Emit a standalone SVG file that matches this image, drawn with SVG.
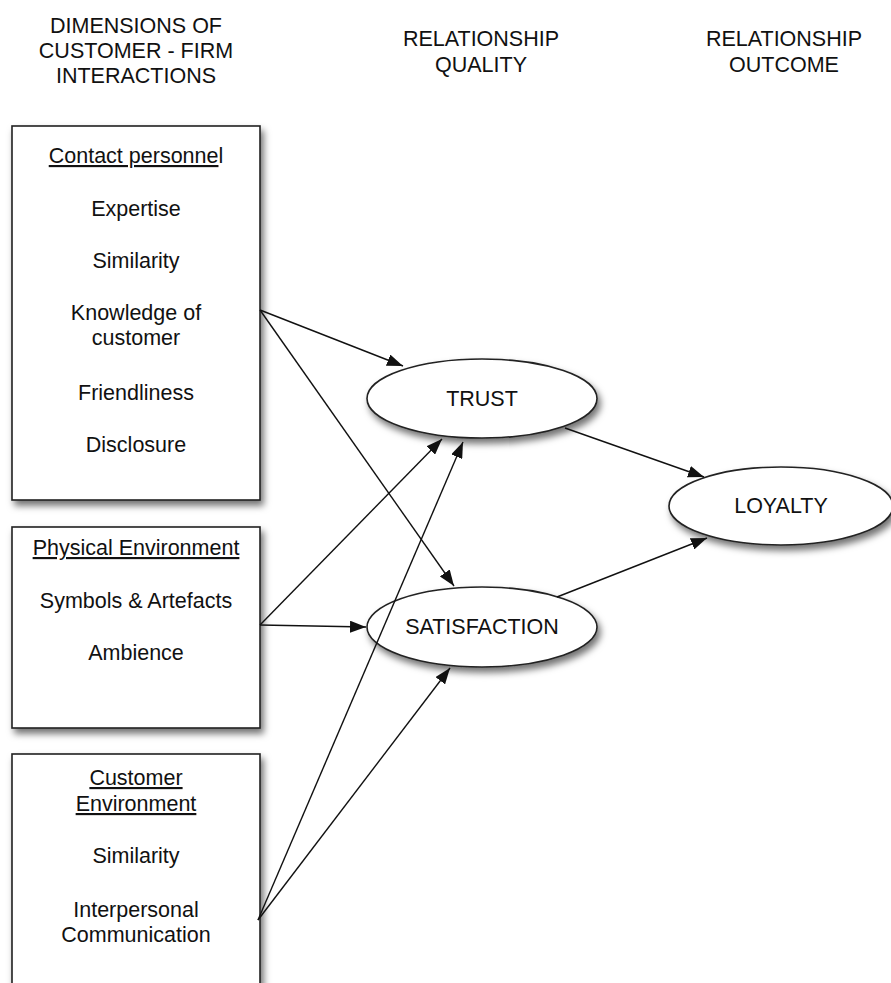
<svg xmlns="http://www.w3.org/2000/svg" width="891" height="983" viewBox="0 0 891 983">
<style>
text{font-family:"Liberation Sans",Arial,sans-serif;font-size:21.5px;fill:#111;text-anchor:middle}
.hdr{font-size:21.5px}
.box{fill:#fff;stroke:#222;stroke-width:1.6;filter:url(#sh)}
.ell{fill:#fff;stroke:#222;stroke-width:1.6;filter:url(#sh)}
.con line{stroke:#111;stroke-width:1.4;marker-end:url(#ah)}
.u{text-decoration:underline}
</style>
<defs>
<filter id="sh" x="-20%" y="-20%" width="140%" height="150%">
<feDropShadow dx="3" dy="5" stdDeviation="3.5" flood-color="#000" flood-opacity="0.55"/>
</filter>
<marker id="ah" markerUnits="userSpaceOnUse" markerWidth="17" markerHeight="12" refX="16" refY="6" orient="auto">
<path d="M0,0 L16,6 L0,12 z" fill="#111"/>
</marker>
</defs>
<g id="headers">
<text class="hdr" x="136" y="33">DIMENSIONS OF</text>
<text class="hdr" x="136" y="58">CUSTOMER - FIRM</text>
<text class="hdr" x="136" y="83">INTERACTIONS</text>
<text class="hdr" x="481" y="46">RELATIONSHIP</text>
<text class="hdr" x="481" y="72">QUALITY</text>
<text class="hdr" x="784" y="46">RELATIONSHIP</text>
<text class="hdr" x="784" y="72">OUTCOME</text>
</g>
<g id="contact-personnel">
<rect class="box" x="12" y="126" width="248" height="374"/>
<text x="136" y="163"><tspan class="u">Contact personne</tspan>l</text>
<text x="136" y="216">Expertise</text>
<text x="136" y="268">Similarity</text>
<text x="136" y="320">Knowledge of</text>
<text x="136" y="345">customer</text>
<text x="136" y="400">Friendliness</text>
<text x="136" y="452">Disclosure</text>
</g>
<g id="physical-environment">
<rect class="box" x="12" y="527" width="248" height="201"/>
<text x="136" y="555" class="u">Physical Environment</text>
<text x="136" y="608">Symbols &amp; Artefacts</text>
<text x="136" y="660">Ambience</text>
</g>
<g id="customer-environment">
<rect class="box" x="12" y="754" width="248" height="250"/>
<text x="136" y="785" class="u">Customer</text>
<text x="136" y="811" class="u">Environment</text>
<text x="136" y="863">Similarity</text>
<text x="136" y="917">Interpersonal</text>
<text x="136" y="942">Communication</text>
</g>
<g id="trust">
<ellipse class="ell" cx="482" cy="398.5" rx="115" ry="39.5"/>
<text x="482" y="406">TRUST</text>
</g>
<g id="satisfaction">
<ellipse class="ell" cx="482" cy="627" rx="115" ry="40"/>
<text x="482" y="634">SATISFACTION</text>
</g>
<g id="loyalty">
<ellipse class="ell" cx="781" cy="506" rx="112" ry="39"/>
<text x="781" y="513">LOYALTY</text>
</g>
<g class="con" id="connectors">
<line x1="260" y1="310" x2="403" y2="366"/>
<line x1="260" y1="310" x2="454" y2="586"/>
<line x1="260" y1="625" x2="442" y2="439"/>
<line x1="260" y1="625" x2="366" y2="627"/>
<line x1="258" y1="920" x2="463" y2="442"/>
<line x1="258" y1="920" x2="450" y2="668"/>
<line x1="565" y1="428" x2="704" y2="477"/>
<line x1="557" y1="597" x2="707" y2="538"/>
</g>
</svg>
